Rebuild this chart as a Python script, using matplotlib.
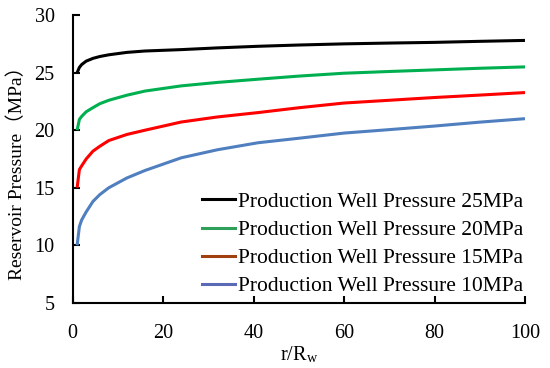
import matplotlib.pyplot as plt
from matplotlib.lines import Line2D

plt.rcParams['font.family'] = ['Liberation Serif', 'Noto Sans CJK SC']
plt.rcParams['mathtext.fontset'] = 'stix'

# r/Rw values
x = [1, 1.5, 2, 3, 4.5, 6, 8, 12, 16, 24, 32, 41, 50, 60, 70, 80, 90, 100]
p25 = [25.0, 25.45, 25.7, 26.0, 26.24, 26.4, 26.55, 26.76, 26.88, 27.0, 27.15, 27.29, 27.4, 27.5, 27.57, 27.63, 27.72, 27.8]
p20 = [20.0, 20.94, 21.2, 21.6, 21.96, 22.3, 22.6, 23.04, 23.4, 23.85, 24.15, 24.43, 24.7, 24.95, 25.1, 25.24, 25.38, 25.5]
p15 = [15.0, 16.58, 16.9, 17.5, 18.18, 18.6, 19.1, 19.63, 20.0, 20.71, 21.15, 21.53, 21.95, 22.36, 22.6, 22.84, 23.05, 23.27]
p10 = [10.0, 11.63, 12.2, 12.9, 13.81, 14.4, 15.0, 15.85, 16.5, 17.6, 18.3, 18.91, 19.3, 19.75, 20.05, 20.36, 20.7, 21.0]

labels = ['Production Well Pressure 25MPa', 'Production Well Pressure 20MPa',
          'Production Well Pressure 15MPa', 'Production Well Pressure 10MPa']
line_colors = ['#000000', '#00b050', '#ff0000', '#4f7fbf']
legend_colors = ['#000000', '#2ea05a', '#a0400f', '#5a6ab5']

fig = plt.figure(figsize=(5.5, 3.68), dpi=100)
ax = fig.add_axes([0.132, 0.177, 0.8225, 0.782])

for ys, c in zip([p25, p20, p15, p10], line_colors):
    ax.plot(x, ys, color=c, linewidth=2.2, solid_capstyle='butt')

ax.set_xlim(0, 100)
ax.set_ylim(5, 30)
ax.set_xticks([0, 20, 40, 60, 80, 100])
ax.set_yticks([5, 10, 15, 20, 25, 30])
ax.spines['top'].set_visible(False)
ax.spines['right'].set_visible(False)
for s in ['left', 'bottom']:
    ax.spines[s].set_linewidth(1.5)
ax.tick_params(direction='in', length=5, width=1.5, labelsize=14.5)
ax.tick_params(axis='x', pad=15)
ax.tick_params(axis='y', pad=13)

ax.set_xlabel(r'r/R$_\mathregular{w}$', fontsize=14.5)
ax.xaxis.set_label_coords(0.5, -0.145)
ax.set_ylabel('Reservoir Pressure（MPa）', fontsize=14)
ax.yaxis.set_label_coords(-0.103, 0.466)

handles = [Line2D([], [], color=c, linewidth=2.2) for c in legend_colors]
ax.legend(handles, labels, loc='lower right', bbox_to_anchor=(1.0, 0.016),
          frameon=False, fontsize=15.5, handlelength=1.5, handletextpad=0.14,
          labelspacing=0.37, borderpad=0.1, borderaxespad=0)

fig.savefig('out.png', dpi=100)
